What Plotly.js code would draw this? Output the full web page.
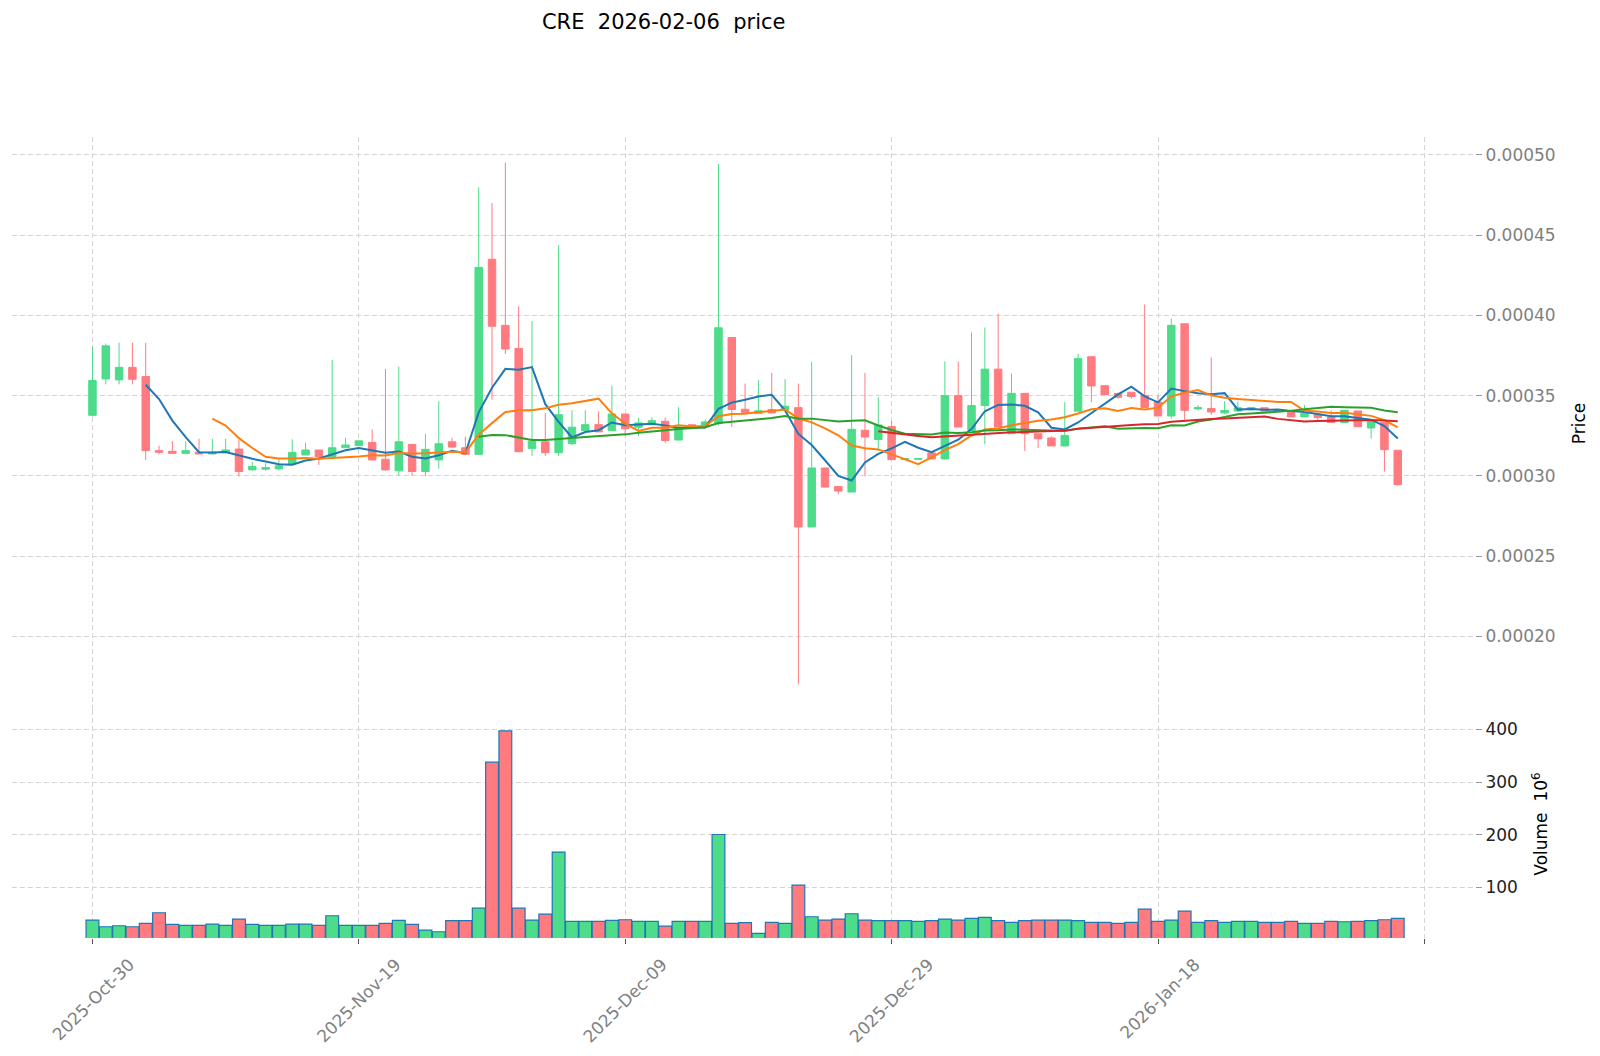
<!DOCTYPE html>
<html>
<head>
<meta charset="utf-8">
<script src="https://cdn.plot.ly/plotly-3.0.1.min.js"></script>
<style>
  body { margin: 0; background: #fff; }
  #chart { width: 1600px; height: 1056px; }
</style>
</head>
<body>
<div id="chart"></div>
<script>
// daily candles, 2025-10-30 .. 2026-02-05 (index 0..98)
var opens = [
  0.0003377, 0.0003604, 0.0003598, 0.0003676, 0.0003619, 0.0003157, 0.0003153, 0.0003140, 0.0003147, 0.0003136,
  0.0003144, 0.0003167, 0.0003037, 0.0003041, 0.0003043, 0.0003074, 0.0003130, 0.0003161, 0.0003120, 0.0003175,
  0.0003188, 0.0003208, 0.0003103, 0.0003031, 0.0003196, 0.0003027, 0.0003099, 0.0003212, 0.0003175, 0.0003134,
  0.0004350, 0.0003938, 0.0003794, 0.0003171, 0.0003212, 0.0003144, 0.0003200, 0.0003282, 0.0003319, 0.0003282,
  0.0003385, 0.0003303, 0.0003319, 0.0003340, 0.0003223, 0.0003318, 0.0003305, 0.0003326, 0.0003862, 0.0003415,
  0.0003388, 0.0003413, 0.0003409, 0.0003425, 0.0002681, 0.0003049, 0.0002934, 0.0002899, 0.0003284, 0.0003226,
  0.0003307, 0.0003101, 0.0003103, 0.0003143, 0.0003105, 0.0003500, 0.0003283, 0.0003438, 0.0003665, 0.0003262,
  0.0003514, 0.0003262, 0.0003236, 0.0003186, 0.0003403, 0.0003742, 0.0003562, 0.0003514, 0.0003521, 0.0003500,
  0.0003460, 0.0003373, 0.0003948, 0.0003417, 0.0003420, 0.0003392, 0.0003404, 0.0003412, 0.0003424, 0.0003410,
  0.0003394, 0.0003367, 0.0003384, 0.0003367, 0.0003333, 0.0003404, 0.0003298, 0.0003333, 0.0003159
]
var highs = [
  0.0003804, 0.0003825, 0.0003829, 0.0003829, 0.0003829, 0.0003188, 0.0003216, 0.0003216, 0.0003231, 0.0003231,
  0.0003231, 0.0003223, 0.0003087, 0.0003078, 0.0003107, 0.0003227, 0.0003206, 0.0003161, 0.0003722, 0.0003237,
  0.0003218, 0.0003289, 0.0003666, 0.0003680, 0.0003196, 0.0003262, 0.0003464, 0.0003237, 0.0003245, 0.0004798,
  0.0004701, 0.0004953, 0.0004056, 0.0003965, 0.0003392, 0.0004439, 0.0003408, 0.0003408, 0.0003402, 0.0003561,
  0.0003385, 0.0003361, 0.0003365, 0.0003365, 0.0003427, 0.0003318, 0.0003350, 0.0004944, 0.0003862, 0.0003575,
  0.0003596, 0.0003642, 0.0003602, 0.0003575, 0.0003710, 0.0003049, 0.0002934, 0.0003752, 0.0003642, 0.0003490,
  0.0003344, 0.0003112, 0.0003112, 0.0003143, 0.0003713, 0.0003713, 0.0003893, 0.0003924, 0.0004010, 0.0003638,
  0.0003514, 0.0003262, 0.0003246, 0.0003459, 0.0003762, 0.0003742, 0.0003562, 0.0003514, 0.0003521, 0.0004068,
  0.0003500, 0.0003979, 0.0003948, 0.0003440, 0.0003738, 0.0003465, 0.0003464, 0.0003430, 0.0003424, 0.0003410,
  0.0003394, 0.0003441, 0.0003384, 0.0003408, 0.0003408, 0.0003404, 0.0003339, 0.0003333, 0.0003159
]
var lows = [
  0.0003370, 0.0003570, 0.0003570, 0.0003570, 0.0003099, 0.0003134, 0.0003140, 0.0003140, 0.0003136, 0.0003136,
  0.0003144, 0.0002996, 0.0003033, 0.0003033, 0.0003033, 0.0003074, 0.0003130, 0.0003068, 0.0003120, 0.0003175,
  0.0003188, 0.0003099, 0.0003031, 0.0003000, 0.0003000, 0.0003000, 0.0003045, 0.0003179, 0.0003134, 0.0003134,
  0.0003474, 0.0003759, 0.0003150, 0.0003124, 0.0003124, 0.0003124, 0.0003192, 0.0003282, 0.0003274, 0.0003282,
  0.0003247, 0.0003247, 0.0003319, 0.0003206, 0.0003223, 0.0003300, 0.0003305, 0.0003315, 0.0003305, 0.0003388,
  0.0003388, 0.0003390, 0.0003409, 0.0001700, 0.0002681, 0.0002930, 0.0002885, 0.0002899, 0.0002997, 0.0003157,
  0.0003101, 0.0003098, 0.0003098, 0.0003105, 0.0003105, 0.0003304, 0.0003283, 0.0003196, 0.0003295, 0.0003262,
  0.0003155, 0.0003174, 0.0003186, 0.0003186, 0.0003403, 0.0003459, 0.0003506, 0.0003480, 0.0003480, 0.0003425,
  0.0003373, 0.0003357, 0.0003350, 0.0003408, 0.0003380, 0.0003384, 0.0003400, 0.0003412, 0.0003404, 0.0003404,
  0.0003367, 0.0003367, 0.0003343, 0.0003333, 0.0003333, 0.0003306, 0.0003231, 0.0003026, 0.0002935
]
var closes = [
  0.0003594, 0.0003810, 0.0003676, 0.0003602, 0.0003157, 0.0003147, 0.0003140, 0.0003157, 0.0003136, 0.0003147,
  0.0003161, 0.0003027, 0.0003058, 0.0003052, 0.0003062, 0.0003146, 0.0003161, 0.0003120, 0.0003175, 0.0003192,
  0.0003218, 0.0003099, 0.0003037, 0.0003212, 0.0003027, 0.0003165, 0.0003200, 0.0003179, 0.0003134, 0.0004299,
  0.0003932, 0.0003790, 0.0003150, 0.0003216, 0.0003144, 0.0003381, 0.0003303, 0.0003319, 0.0003274, 0.0003385,
  0.0003293, 0.0003330, 0.0003344, 0.0003220, 0.0003303, 0.0003306, 0.0003336, 0.0003923, 0.0003413, 0.0003394,
  0.0003405, 0.0003392, 0.0003434, 0.0002681, 0.0003049, 0.0002930, 0.0002905, 0.0003290, 0.0003242, 0.0003317,
  0.0003101, 0.0003108, 0.0003108, 0.0003105, 0.0003500, 0.0003304, 0.0003438, 0.0003665, 0.0003304, 0.0003514,
  0.0003262, 0.0003231, 0.0003186, 0.0003252, 0.0003731, 0.0003560, 0.0003506, 0.0003490, 0.0003494, 0.0003426,
  0.0003373, 0.0003938, 0.0003408, 0.0003425, 0.0003398, 0.0003408, 0.0003424, 0.0003425, 0.0003404, 0.0003404,
  0.0003367, 0.0003388, 0.0003363, 0.0003333, 0.0003408, 0.0003306, 0.0003339, 0.0003163, 0.0002945
]
// volume in millions
var volumeM = [
  37.9, 25.2, 27.1, 25.2, 31.6, 51.8, 29.7, 27.8, 27.8, 30.3,
  27.8, 39.8, 29.7, 27.8, 27.8, 30.3, 30.3, 27.8, 46.1, 27.8,
  27.8, 27.8, 31.6, 37.3, 29.7, 18.9, 15.7, 36.7, 36.7, 60.7,
  337.9, 397.4, 60.7, 37.9, 49.3, 167.0, 35.4, 35.4, 35.4, 37.3,
  38.5, 35.4, 35.4, 26.5, 35.4, 35.4, 35.4, 200.5, 31.6, 33.0,
  12.6, 33.5, 31.6, 104.3, 44.2, 37.9, 39.8, 49.9, 37.9, 36.7,
  36.7, 36.7, 35.4, 36.7, 39.8, 37.9, 41.1, 43.0, 36.7, 33.5,
  36.7, 37.9, 37.9, 37.9, 36.7, 33.5, 33.5, 31.6, 33.5, 58.8,
  35.4, 37.9, 55.0, 33.5, 36.7, 33.5, 35.4, 35.4, 33.5, 33.5,
  35.4, 31.6, 31.6, 35.4, 34.7, 35.4, 36.7, 38.5, 41.1
]
var tickIdx = [0, 20, 40, 60, 80]
var tickLabels = ['2025-Oct-30', '2025-Nov-19', '2025-Dec-09', '2025-Dec-29', '2026-Jan-18']
var endTickIdx = [100]   // tick past the last candle, no label
var maPeriods = [5, 10, 30, 60]
var maColors = ['#1f77b4', '#ff7f0e', '#2ca02c', '#d62728']

var upColor = '#4cdc8a'
var downColor = '#ff7b80'

var idx = closes.map(function (c, i) { return i })

function sma (vals, n) {
    return vals.map(function (v, i) {
        if (i < n - 1) return null
        var s = 0
        for (var k = i - n + 1; k <= i; k++) s += vals[k]
        return s / n
    })
}

var traces = [{
    type: 'candlestick',
    x: idx, open: opens, high: highs, low: lows, close: closes,
    xaxis: 'x', yaxis: 'y',
    increasing: { line: { color: upColor, width: 1 }, fillcolor: upColor },
    decreasing: { line: { color: downColor, width: 1 }, fillcolor: downColor },
    whiskerwidth: 0,
    showlegend: false,
    hoverinfo: 'skip'
}]

maPeriods.forEach(function (n, k) {
    traces.push({
        type: 'scatter', mode: 'lines',
        x: idx, y: sma(closes, n),
        xaxis: 'x', yaxis: 'y',
        line: { color: maColors[k], width: 2 },
        showlegend: false, hoverinfo: 'skip'
    })
})

traces.push({
    type: 'bar',
    x: idx, y: volumeM,
    xaxis: 'x', yaxis: 'y2',
    width: 0.96,
    marker: {
        color: closes.map(function (c, i) { return c >= opens[i] ? upColor : downColor }),
        line: { color: '#1f77b4', width: 1.2 }
    },
    showlegend: false, hoverinfo: 'skip'
})

var gridStyle = { showgrid: true, gridcolor: '#d4d4d4', gridwidth: 1, griddash: '5px,3px', zeroline: false, showline: false }
var font = 'DejaVu Sans, sans-serif'

var layout = {
    width: 1600, height: 1056,
    margin: { l: 12, r: 125, t: 137, b: 118 },
    paper_bgcolor: '#fff', plot_bgcolor: '#fff',
    font: { family: font, size: 17, color: '#222' },
    showlegend: false,
    boxgap: 0.44, boxgroupgap: 0,
    title: {
        text: 'CRE \u00a02026-02-06 \u00a0price',
        font: { family: font, size: 21, color: '#000' },
        xref: 'container', yref: 'container',
        x: 0.4148, xanchor: 'center', y: 0.9797, yanchor: 'middle'
    },
    xaxis: Object.assign({}, gridStyle, {
        anchor: 'y2',
        range: [-6.04, 103.8],
        tickmode: 'array', tickvals: tickIdx, ticktext: tickLabels,
        tickangle: -45,
        ticklabelshift: 37, ticklabelstandoff: 4,
        ticks: 'outside', ticklen: 5, tickcolor: '#555',
        tickfont: { family: font, size: 17, color: '#808080' },
        minor: {
            tickmode: 'array', tickvals: endTickIdx,
            ticks: 'outside', ticklen: 5, tickcolor: '#555',
            showgrid: true, gridcolor: '#d4d4d4', gridwidth: 1, griddash: '5px,3px'
        },
        rangeslider: { visible: false }
    }),
    yaxis: Object.assign({}, gridStyle, {
        domain: [0.2846, 1],
        side: 'right',
        range: [0.000154, 0.0005112],
        tickmode: 'array',
        tickvals: [0.0002, 0.00025, 0.0003, 0.00035, 0.0004, 0.00045, 0.0005],
        tickformat: '.5f',
        ticks: 'outside', ticklen: 6, tickcolor: '#999',
        tickfont: { family: font, size: 17, color: '#808080' },
        title: { text: 'Price', font: { family: font, size: 17, color: '#000' }, standoff: 18 }
    }),
    yaxis2: Object.assign({}, gridStyle, {
        domain: [0, 0.2846],
        side: 'right',
        range: [3.8, 437],
        tickmode: 'array',
        tickvals: [100, 200, 300, 400],
        ticktext: ['100', '200', '300', '400'],
        ticks: 'outside', ticklen: 6, tickcolor: '#999',
        tickfont: { family: font, size: 17, color: '#222' },
        title: { text: 'Volume \u00a010<sup>6</sup>', font: { family: font, size: 17, color: '#000' }, standoff: 18 }
    })
}

Plotly.newPlot('chart', traces, layout, { displayModeBar: false, staticPlot: true })
</script>
</body>
</html>
